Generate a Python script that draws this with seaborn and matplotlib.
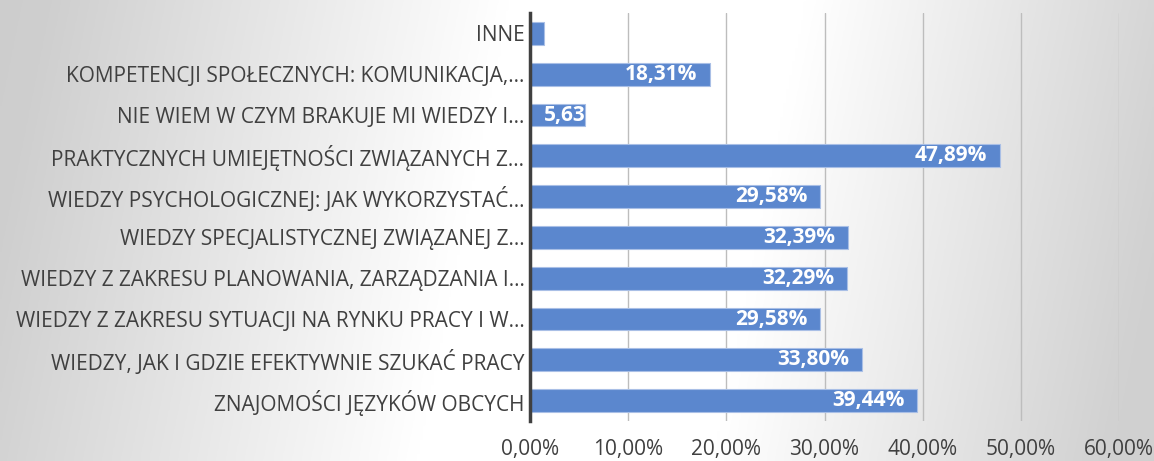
import numpy as np
import pandas as pd
import matplotlib
matplotlib.use("Agg")
import matplotlib.pyplot as plt
import seaborn as sns
from matplotlib.ticker import FuncFormatter
from matplotlib.transforms import Bbox, TransformedBbox

categories = [
    "INNE",
    "KOMPETENCJI SPOŁECZNYCH: KOMUNIKACJA,...",
    "NIE WIEM W CZYM BRAKUJE MI WIEDZY I...",
    "PRAKTYCZNYCH UMIEJĘTNOŚCI ZWIĄZANYCH Z...",
    "WIEDZY PSYCHOLOGICZNEJ: JAK WYKORZYSTAĆ...",
    "WIEDZY SPECJALISTYCZNEJ ZWIĄZANEJ Z...",
    "WIEDZY Z ZAKRESU PLANOWANIA, ZARZĄDZANIA I...",
    "WIEDZY Z ZAKRESU SYTUACJI NA RYNKU PRACY I W...",
    "WIEDZY, JAK I GDZIE EFEKTYWNIE SZUKAĆ PRACY",
    "ZNAJOMOŚCI JĘZYKÓW OBCYCH",
]
values = [0.0141, 0.1831, 0.0563, 0.4789, 0.2958, 0.3239, 0.3229, 0.2958, 0.3380, 0.3944]
show_label = [False, True, True, True, True, True, True, True, True, True]
x_ticks = [0.0, 0.1, 0.2, 0.3, 0.4, 0.5, 0.6]

df = pd.DataFrame({"kategoria": categories, "wartosc": values})

sns.set_theme(style="white")
plt.rcParams["font.family"] = ["Open Sans", "DejaVu Sans"]

W, H = 1154, 461
fig = plt.figure(figsize=(W / 100, H / 100), dpi=100)

# background gradient
bg = fig.add_axes([0, 0, 1, 1], zorder=-10)
xs = np.linspace(0, 1, 400)
ys = np.linspace(0, 1, 100)
X, Y = np.meshgrid(xs, ys)
Xs = X + 0.08 * (Y - 0.5)
prof = np.interp(Xs, [-0.1, 0.0, 0.40, 0.66, 1.0, 1.1], [0.80, 0.81, 1.0, 1.0, 0.82, 0.81])
bg.imshow(np.dstack([prof, prof, prof]), aspect="auto", extent=[0, 1, 0, 1], origin="upper")
bg.set_axis_off()

ax = fig.add_axes([530 / W, 1 - 421 / H, (1119 - 530) / W, (421 - 13) / H])
ax.patch.set_alpha(0)

sns.barplot(data=df, y="kategoria", x="wartosc", orient="h", ax=ax,
            color="#5B87CE", saturation=1, width=0.56,
            edgecolor="#A9BFE6", linewidth=0.8, zorder=3)

ax.set_xlim(0, 0.6)
ax.set_xticks(x_ticks)
ax.xaxis.set_major_formatter(FuncFormatter(lambda v, p: f"{v*100:.2f}%".replace(".", ",")))
ax.grid(axis="x", color="#BDBDBD", linewidth=1.0, zorder=0)
ax.set_axisbelow(True)
for s in ["top", "right", "bottom"]:
    ax.spines[s].set_visible(False)
ax.spines["left"].set_color("#404040")
ax.spines["left"].set_linewidth(2.5)
ax.spines["left"].set_zorder(5)
ax.set_xlabel("")
ax.set_ylabel("")
ax.tick_params(axis="both", length=0, colors="#404040", labelsize=15)
ax.tick_params(axis="x", pad=13)
ax.tick_params(axis="y", pad=4)

fig.canvas.draw()
for bar, v, show in zip(ax.patches, values, show_label):
    if not show:
        continue
    txt = f"{v*100:.2f}%".replace(".", ",")
    y = bar.get_y() + bar.get_height() / 2
    if v < 0.08:
        t = ax.text(0.014, y, txt, ha="left", va="center", color="white",
                    fontsize=15, fontweight="bold", zorder=6, clip_on=True)
        t.set_clip_box(TransformedBbox(Bbox([[0, bar.get_y()], [v, bar.get_y() + bar.get_height()]]),
                                       ax.transData))
    else:
        ax.text(v - 0.013, y, txt, ha="right", va="center", color="white",
                fontsize=15, fontweight="bold", zorder=6)

fig.savefig("out.png", dpi=100)
